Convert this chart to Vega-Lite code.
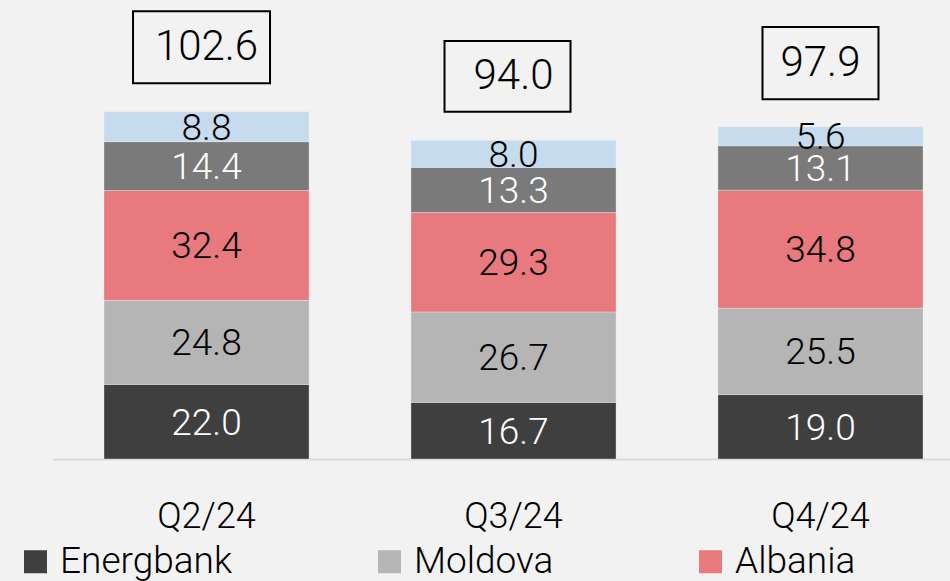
{
  "$schema": "https://vega.github.io/schema/vega-lite/v6.json",
  "width": 897,
  "height": 459,
  "autosize": {"type": "none"},
  "padding": {"left": 53, "top": 0, "right": 0, "bottom": 122},
  "background": "#f2f2f2",
  "config": {"view": {"stroke": null}, "font": "Roboto"},
  "datasets": {
    "segments": [
      {"quarter": "Q2/24", "series": "Energbank", "rank": 1, "value": 22.0},
      {"quarter": "Q2/24", "series": "Moldova", "rank": 2, "value": 24.8},
      {"quarter": "Q2/24", "series": "Albania", "rank": 3, "value": 32.4},
      {"quarter": "Q2/24", "series": "Other", "rank": 4, "value": 14.4},
      {"quarter": "Q2/24", "series": "Group", "rank": 5, "value": 8.8},
      {"quarter": "Q3/24", "series": "Energbank", "rank": 1, "value": 16.7},
      {"quarter": "Q3/24", "series": "Moldova", "rank": 2, "value": 26.7},
      {"quarter": "Q3/24", "series": "Albania", "rank": 3, "value": 29.3},
      {"quarter": "Q3/24", "series": "Other", "rank": 4, "value": 13.3},
      {"quarter": "Q3/24", "series": "Group", "rank": 5, "value": 8.0},
      {"quarter": "Q4/24", "series": "Energbank", "rank": 1, "value": 19.0},
      {"quarter": "Q4/24", "series": "Moldova", "rank": 2, "value": 25.5},
      {"quarter": "Q4/24", "series": "Albania", "rank": 3, "value": 34.8},
      {"quarter": "Q4/24", "series": "Other", "rank": 4, "value": 13.1},
      {"quarter": "Q4/24", "series": "Group", "rank": 5, "value": 5.6}
    ],
    "totals": [
      {"quarter": "Q2/24", "total": 102.6},
      {"quarter": "Q3/24", "total": 94.0},
      {"quarter": "Q4/24", "total": 97.9}
    ]
  },
  "encoding": {
    "x": {
      "field": "quarter",
      "type": "nominal",
      "sort": ["Q2/24", "Q3/24", "Q4/24"],
      "scale": {"paddingInner": 0.332, "paddingOuter": 0.127, "align": 0.654},
      "axis": {
        "title": null,
        "labelAngle": 0,
        "ticks": false,
        "labelPadding": 40,
        "labelFontSize": 36,
        "labelFontWeight": 300,
        "labelColor": "#000000",
        "labelFont": "Roboto",
        "domainColor": "#d9d9d9",
        "domainWidth": 2
      }
    }
  },
  "layer": [
    {
      "data": {"name": "segments"},
      "mark": {"type": "bar", "stroke": "#f2f2f2", "strokeWidth": 0.7, "strokeOpacity": 0.5},
      "encoding": {
        "y": {
          "field": "value",
          "type": "quantitative",
          "stack": "zero",
          "scale": {"domain": [0, 135.4], "nice": false, "zero": true},
          "axis": null
        },
        "color": {
          "field": "series",
          "type": "nominal",
          "scale": {
            "domain": ["Energbank", "Moldova", "Albania", "Other", "Group"],
            "range": ["#3f3f3f", "#b5b5b5", "#e8797e", "#7a7a7a", "#c6dbed"]
          },
          "legend": {
            "title": null,
            "orient": "none",
            "legendX": -36,
            "legendY": 543,
            "direction": "horizontal",
            "columns": 3,
            "values": ["Energbank", "Moldova", "Albania"],
            "symbolType": "square",
            "symbolSize": 529,
            "symbolStrokeWidth": 0,
            "symbolOpacity": 1,
            "labelFontSize": 37,
            "labelFontWeight": 300,
            "labelFont": "Roboto",
            "labelOffset": 6,
            "labelColor": "#000000",
            "labelLimit": 400,
            "columnPadding": 138,
            "padding": 0
          }
        },
        "order": {"field": "rank", "type": "quantitative"}
      }
    },
    {
      "data": {"name": "segments"},
      "mark": {"type": "text", "fontSize": 37, "fontWeight": 300, "baseline": "middle", "font": "Roboto", "yOffset": 2},
      "encoding": {
        "y": {"field": "value", "type": "quantitative", "stack": "zero", "bandPosition": 0.5},
        "detail": {"field": "series", "type": "nominal"},
        "order": {"field": "rank", "type": "quantitative"},
        "text": {"field": "value", "type": "quantitative", "format": ".1f"},
        "color": {
          "condition": {"test": "datum.series === 'Energbank' || datum.series === 'Other'", "value": "#ffffff"},
          "value": "#000000"
        }
      }
    },
    {
      "data": {"name": "totals"},
      "transform": [{"filter": "datum.quarter === 'Q2/24'"}],
      "mark": {"type": "point", "shape": "M-1,-0.526H1V0.526H-1Z", "filled": false, "stroke": "#000000", "strokeWidth": 2, "opacity": 1, "size": 18769, "xOffset": -5, "yOffset": -64},
      "encoding": {"y": {"field": "total", "type": "quantitative"}}
    },
    {
      "data": {"name": "totals"},
      "transform": [{"filter": "datum.quarter === 'Q3/24'"}],
      "mark": {"type": "point", "shape": "M-1,-0.563H1V0.563H-1Z", "filled": false, "stroke": "#000000", "strokeWidth": 2, "opacity": 1, "size": 15876, "xOffset": -6, "yOffset": -64},
      "encoding": {"y": {"field": "total", "type": "quantitative"}}
    },
    {
      "data": {"name": "totals"},
      "transform": [{"filter": "datum.quarter === 'Q4/24'"}],
      "mark": {"type": "point", "shape": "M-1,-0.621H1V0.621H-1Z", "filled": false, "stroke": "#000000", "strokeWidth": 2, "opacity": 1, "size": 13456, "xOffset": 0, "yOffset": -64},
      "encoding": {"y": {"field": "total", "type": "quantitative"}}
    },
    {
      "data": {"name": "totals"},
      "mark": {"type": "text", "fontSize": 42, "fontWeight": 300, "baseline": "middle", "yOffset": -64, "color": "#000000", "font": "Roboto"},
      "encoding": {
        "y": {"field": "total", "type": "quantitative"},
        "text": {"field": "total", "type": "quantitative", "format": ".1f"}
      }
    }
  ]
}
